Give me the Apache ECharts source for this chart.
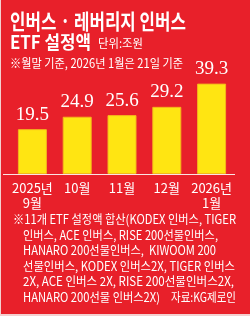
<!DOCTYPE html>
<html><head><meta charset="utf-8">
<script src="https://cdn.jsdelivr.net/npm/echarts@6/dist/echarts.min.js"></script>
<style>
html,body{margin:0;padding:0;background:#f3cfcf;width:250px;height:316px;overflow:hidden;}
#c{position:absolute;left:1px;top:0;width:249px;height:314px;}
</style></head>
<body><div id="c"></div>
<script>
// ---- data ----
const categories = ['2025년\n9월', '10월', '11월', '12월', '2026년\n1월'];
const values = [19.5, 24.9, 25.6, 29.2, 39.3];
const titleLine1 = '인버스 · 레버리지 인버스';
const titleLine2 = 'ETF 설정액';
const unitText = '단위:조원';
const noteText = '※월말 기준, 2026년 1월은 21일 기준';
const footLines = [
  '※11개 ETF 설정액 합산(KODEX 인버스, TIGER',
  '인버스, ACE 인버스, RISE 200선물인버스,',
  'HANARO 200선물인버스,  KIWOOM 200',
  '선물인버스, KODEX 인버스2X, TIGER 인버스',
  '2X, ACE 인버스 2X, RISE 200선물인버스2X,',
  'HANARO 200선물 인버스2X)'
];
const sourceText = '자료:KG제로인';

// ---- layout helpers ----
const KR = "'Noto Sans CJK KR'";
const cvs = document.createElement('canvas').getContext('2d');
function txt(text, x, y, size, weight, targetW) {
  const font = weight + ' ' + size + 'px ' + KR;
  cvs.font = font;
  const w = cvs.measureText(text).width;
  return {
    type: 'text', x: x, y: y, scaleX: targetW / w, scaleY: 1,
    style: { text: text, font: font, fill: '#fff', textVerticalAlign: 'middle', textAlign: 'left' },
    z: 10
  };
}
const graphics = [
  txt(titleLine1, 9, 21, 21, 'bold', 176),
  txt(titleLine2, 9, 42, 18, 'bold', 81),
  txt(unitText, 97, 43, 12, 'normal', 45),
  txt(noteText, 9, 63, 12.5, 'normal', 173)
];
const footY = [219, 235, 250, 266, 281, 297];
const footX = [12, 22, 22, 22, 22, 22];
const footW = [223, 195, 193, 212, 211, 137];
footLines.forEach((l, i) => graphics.push(txt(l, footX[i], footY[i], 12.5, 'normal', footW[i])));
graphics.push(txt(sourceText, 170, 297, 12.5, 'normal', 65));
graphics.push({ type: 'line', shape: { x1: 2, y1: 174.5, x2: 234, y2: 174.5 }, style: { stroke: '#fbe3e3', lineWidth: 1 }, z: 5 });

const chart = echarts.init(document.getElementById('c'), null, { renderer: 'canvas' });
chart.setOption({
  backgroundColor: '#E8202A',
  animation: false,
  grid: { left: 9, right: 16, top: 82, bottom: 140 },
  xAxis: {
    type: 'category', data: categories,
    axisLine: { show: false }, axisTick: { show: false },
    axisLabel: { interval: 0, hideOverlap: false, color: '#fff', fontSize: 13, lineHeight: 15, margin: 7, fontFamily: "'Liberation Sans Narrow'," + KR }
  },
  yAxis: { type: 'value', min: 0, max: 40, show: false, splitLine: { show: false } },
  series: [{
    type: 'bar', data: values, barWidth: 29,
    itemStyle: { color: '#FFE512', borderColor: '#F4B51C', borderWidth: 1 },
    label: { show: true, position: 'top', distance: 5, color: '#fff', fontSize: 19, fontFamily: "'Liberation Sans Narrow'" }
  }],
  graphic: graphics
});
</script></body></html>
